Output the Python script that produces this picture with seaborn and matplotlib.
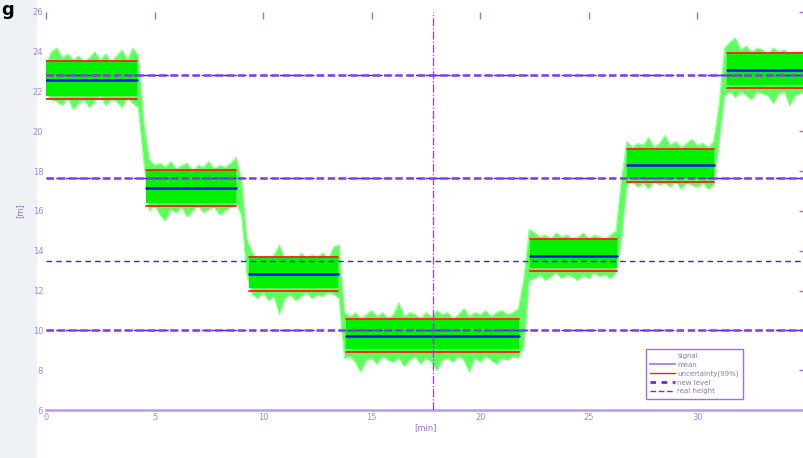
import numpy as np
import pandas as pd
import seaborn as sns
import matplotlib.pyplot as plt
from matplotlib.lines import Line2D
from matplotlib.patches import Rectangle

# signal envelope (upper / lower edge of the green trace)
sig_t = np.concatenate([
    np.arange(0.0, 4.01, 0.25), [4.25, 4.5],
    np.arange(4.75, 8.76, 0.25), [9.0, 9.25],
    np.arange(9.5, 13.26, 0.25), [13.5, 13.6],
    np.arange(13.75, 21.76, 0.25), [22.0, 22.25],
    np.arange(22.5, 26.26, 0.25), [26.5],
    np.arange(26.75, 30.76, 0.25), [31.0],
    np.arange(31.25, 35.01, 0.25),
])
sig_hi = [23.4, 24.0, 24.2, 23.7, 23.9, 23.6, 23.8, 23.5, 23.7, 24.0, 23.6, 23.9, 23.5, 23.8, 24.1, 23.6, 24.2,
          23.8, 20.5,
          18.6, 18.3, 18.4, 18.2, 18.5, 18.1, 18.3, 18.4, 18.0, 18.3, 18.2, 18.5, 18.1, 18.3, 18.2, 18.4, 18.7,
          17.6, 14.6,
          13.9, 13.6, 13.7, 13.5, 13.8, 14.3, 13.6, 13.7, 13.5, 13.9, 13.6, 13.8, 13.7, 13.9, 13.6, 14.2,
          14.3, 12.8,
          10.9, 10.7, 10.9, 10.6, 10.8, 11.0, 10.7, 10.9, 10.6, 10.8, 11.4, 10.7, 10.9, 10.8, 10.6, 10.9, 10.7,
          11.0, 10.8, 10.9, 10.6, 10.8, 11.1, 10.7, 10.9, 10.8, 11.0, 10.7, 10.9, 11.0, 10.8, 10.9, 11.1,
          12.6, 15.1,
          14.9, 14.7, 14.8, 14.6, 14.9, 14.7, 14.8, 14.6, 14.7, 14.9, 14.6, 14.8, 14.7, 14.6, 14.8, 15.0,
          17.6,
          19.5, 19.2, 19.4, 19.3, 19.7, 19.2, 19.4, 19.8, 19.3, 19.5, 19.2, 19.4, 19.6, 19.3, 19.4, 19.2, 19.5,
          21.4,
          24.2, 24.5, 24.7, 24.1, 24.3, 24.0, 24.2, 24.1, 23.9, 24.2, 24.0, 24.1, 23.9, 24.0, 23.9, 24.0]
sig_lo = [21.9, 21.6, 21.5, 21.3, 21.7, 21.1, 21.4, 21.6, 21.2, 21.5, 21.8, 21.3, 21.6, 21.5, 21.2, 21.7, 21.4,
          21.2, 18.5,
          16.0, 16.3, 15.8, 15.5, 16.1, 15.9, 16.2, 15.7, 16.0, 16.3, 15.9, 16.1, 16.2, 15.8, 16.0, 16.2, 16.4,
          15.8, 12.8,
          11.8, 11.6, 11.9, 11.5, 11.7, 10.8, 11.6, 11.8, 11.5, 11.7, 11.9, 11.6, 11.8, 11.7, 11.9, 11.8,
          11.6, 10.2,
          8.6, 8.7, 8.4, 7.9, 8.5, 8.6, 8.3, 8.7, 8.5, 8.4, 8.6, 8.2, 8.5, 8.7, 8.3, 8.6, 8.4,
          8.0, 8.5, 8.6, 8.4, 8.7, 8.5, 7.9, 8.6, 8.4, 8.7, 8.5, 8.3, 8.6, 8.5, 8.7, 8.6,
          9.2, 12.5,
          12.6, 12.8, 12.5, 12.7, 12.9, 12.6, 12.8, 12.7, 12.5, 12.8, 12.6, 12.9, 12.7, 12.8, 12.6, 12.9,
          14.6,
          17.3, 17.5, 17.2, 17.4, 17.1, 17.5, 17.3, 17.4, 17.2, 17.5, 17.1, 17.4, 17.3, 17.2, 17.4, 17.1, 17.3,
          19.5,
          21.8, 22.0, 21.7, 22.0, 21.8, 21.6, 22.0, 21.9, 21.8, 21.4, 21.9, 22.0, 21.3, 21.8, 21.9, 22.0]

# fitted levels per step
seg_start = [0.0, 4.6, 9.35, 13.8, 22.3, 26.75, 31.35]
seg_end = [4.2, 8.75, 13.45, 21.8, 26.3, 30.75, 35.0]
seg_mean = [22.58, 17.17, 12.82, 9.72, 13.75, 18.33, 23.07]
seg_upper = [23.54, 18.05, 13.67, 10.56, 14.57, 19.13, 23.92]
seg_lower = [21.63, 16.27, 11.98, 8.91, 13.0, 17.47, 22.18]

new_level = [22.83, 17.66, 10.0]
real_height = [22.83, 17.66, 13.5, 10.0]
marker_time = 17.8

x_ticks = [0, 5, 10, 15, 20, 25, 30]
y_ticks = [6, 8, 10, 12, 14, 16, 18, 20, 22, 24, 26]

purple = '#9a6ee6'
label_purple = '#a486ea'

sns.set_style('white')
plt.rcParams['font.family'] = ['DejaVu Sans']

fig = plt.figure(figsize=(8.04, 4.58), dpi=100)
fig.patches.append(Rectangle((0, 0), 36 / 804, 1, transform=fig.transFigure,
                             color='#eef2f6', zorder=-5))
fig.text(0.002, 0.998, 'g', fontsize=13, fontweight='bold', color='black', va='top', ha='left')

ax = fig.add_axes([46 / 804, 48 / 458, 760 / 804, 398 / 458])
ax.patch.set_alpha(0)

# signal: spiky outer envelope + dense core between the uncertainty bounds
ax.fill_between(sig_t, sig_lo, sig_hi, color='#5cff5c', lw=0, zorder=1)
ax.plot(sig_t, sig_hi, color='#8dff8d', lw=0.7, zorder=1)
ax.plot(sig_t, sig_lo, color='#8dff8d', lw=0.7, zorder=1)
for i in range(len(seg_start)):
    ax.fill_between([seg_start[i], seg_end[i]], seg_lower[i] + 0.15, seg_upper[i] - 0.05,
                    color='#00f000', lw=0, zorder=1.5)

# segment lines via seaborn
rows = []
for i in range(len(seg_start)):
    for t in (seg_start[i], seg_end[i]):
        rows.append({'seg': i, 't': t, 'mean': seg_mean[i],
                     'upper': seg_upper[i], 'lower': seg_lower[i]})
segs = pd.DataFrame(rows)
sns.lineplot(data=segs, x='t', y='upper', units='seg', estimator=None, color='#ff1a1a',
             lw=1.3, ax=ax, zorder=3)
sns.lineplot(data=segs, x='t', y='lower', units='seg', estimator=None, color='#ff1a1a',
             lw=1.3, ax=ax, zorder=3)
sns.lineplot(data=segs, x='t', y='mean', units='seg', estimator=None, color='#1010f0',
             lw=1.8, ax=ax, zorder=3)

for y in real_height:
    ax.axhline(y, color='#2a2ae0', lw=1.0, dashes=(4, 3), zorder=4)
for y in new_level:
    ax.axhline(y, color='#8a3be4', lw=1.8, dashes=(3, 1.5), zorder=5)
ax.axvline(marker_time, color='#9040e0', lw=0.9, linestyle='-.', zorder=4)

ax.set_xlim(0, 35)
ax.set_ylim(6, 26)
ax.set_xticks(x_ticks)
ax.set_yticks(y_ticks)
ax.tick_params(direction='in', length=5, width=1, color=purple, labelcolor=label_purple,
               labelsize=6, top=True, right=True, pad=2)
for side in ['left', 'top', 'right']:
    ax.spines[side].set_visible(False)
ax.spines['bottom'].set_color('#b79af0')
ax.spines['bottom'].set_linewidth(1.8)
ax.set_xlabel('[min]', fontsize=6, color=purple, labelpad=1)
ax.set_ylabel('[m]', fontsize=6, color=purple, labelpad=6)

handles = [
    Line2D([], [], color='none'),
    Line2D([], [], color='#b08ae8', lw=1.5),
    Line2D([], [], color='#ff1a1a', lw=1.0),
    Line2D([], [], color='#6a2be0', lw=2.0, dashes=(2, 2)),
    Line2D([], [], color='#5a3ae0', lw=1.0, dashes=(4, 2)),
]
labels = ['signal', 'mean', 'uncertainty(99%)', 'new level', 'real height']
leg = ax.legend(handles, labels, loc='lower left', bbox_to_anchor=(0.785, 0.02),
                fontsize=5, frameon=True, fancybox=False, framealpha=1,
                handlelength=3.5, borderpad=0.6, labelspacing=0.4, handletextpad=0.4)
leg.get_frame().set_edgecolor('#a070e8')
leg.get_frame().set_linewidth(1.0)
for txt in leg.get_texts():
    txt.set_color('#8a7aa8')

fig.savefig('out.png', dpi=100)
